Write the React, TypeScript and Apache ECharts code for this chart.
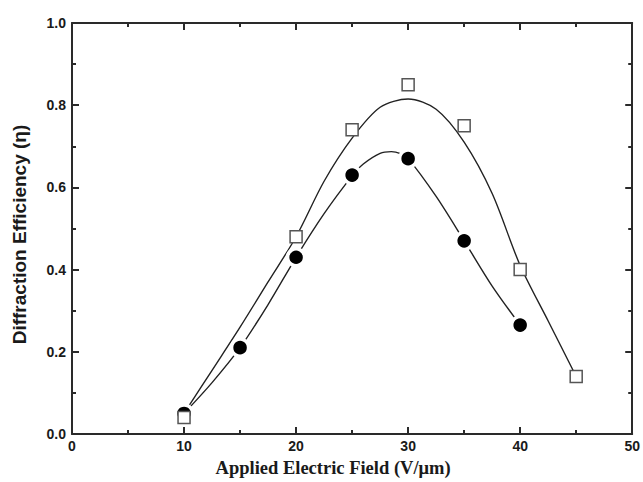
import React, { useEffect, useRef } from "react";
import * as echarts from "echarts";

// measured points
const squareX = [10, 20, 25, 30, 35, 40, 45];
const squareY = [0.04, 0.48, 0.74, 0.85, 0.75, 0.40, 0.14];
const circleX = [10, 15, 20, 25, 30, 35, 40];
const circleY = [0.05, 0.21, 0.43, 0.63, 0.67, 0.47, 0.265];

// fitted curves
const squareFitX = [10, 12.5, 15, 17.5, 20, 22.5, 25, 27.5, 30, 32.5, 35, 37.5, 40, 42.5, 45];
const squareFitY = [0.05, 0.155, 0.26, 0.37, 0.48, 0.615, 0.72, 0.795, 0.815, 0.79, 0.71, 0.585, 0.41, 0.275, 0.14];
const circleFitX = [10, 12.5, 15, 17.5, 20, 22.5, 25, 26, 27.5, 28.5, 29.25, 30, 32.5, 35, 37.5, 40];
const circleFitY = [0.05, 0.125, 0.21, 0.315, 0.43, 0.536, 0.628, 0.657, 0.683, 0.687, 0.683, 0.67, 0.578, 0.47, 0.36, 0.265];

const xTicks = [0, 10, 20, 30, 40, 50];
const yTicks = [0, 0.2, 0.4, 0.6, 0.8, 1.0];

const xTitle = "Applied Electric Field (V/\u03bcm)";
const yTitle = "Diffraction Efficiency (\u03b7)";

const pair = (xs: number[], ys: number[]) => xs.map((x, i) => [x, ys[i]]);

export default function App() {
  const ref = useRef<HTMLDivElement>(null);
  useEffect(() => {
    if (!ref.current) return;
    const chart = echarts.init(ref.current, null, { renderer: "svg" });
    const axisColor = "#2a2a2a";
    const labelStyle = {
      color: "#1a1a1a",
      fontFamily: "Liberation Sans, Arial, sans-serif",
      fontWeight: "bold" as const,
      fontSize: 14,
    };
    const commonAxis = {
      axisLine: { show: true, onZero: false, lineStyle: { color: axisColor, width: 2 } },
      axisTick: { show: true, inside: true, length: 7, lineStyle: { color: axisColor, width: 2 } },
      minorTick: { show: true, splitNumber: 2, length: 4, lineStyle: { color: axisColor, width: 2 } },
      splitLine: { show: false },
      minorSplitLine: { show: false },
    };
    chart.setOption({
      animation: false,
      backgroundColor: "#ffffff",
      grid: { left: 72, right: 10, top: 23, bottom: 47, containLabel: false },
      xAxis: [
        {
          type: "value",
          min: xTicks[0],
          max: xTicks[xTicks.length - 1],
          interval: 10,
          position: "bottom",
          ...commonAxis,
          axisLabel: { ...labelStyle, margin: 5 },
          name: xTitle,
          nameLocation: "middle",
          nameGap: 24,
          nameTextStyle: {
            color: "#1a1a1a",
            fontFamily: "Liberation Serif, Times New Roman, serif",
            fontWeight: "bold",
            fontSize: 18.5,
            padding: [0, 38, 0, 0],
          },
        },
        {
          type: "value",
          min: xTicks[0],
          max: xTicks[xTicks.length - 1],
          interval: 10,
          position: "top",
          ...commonAxis,
          axisLabel: { show: false },
        },
      ],
      yAxis: [
        {
          type: "value",
          min: yTicks[0],
          max: yTicks[yTicks.length - 1],
          interval: 0.2,
          position: "left",
          ...commonAxis,
          axisLabel: { ...labelStyle, margin: 6, formatter: (v: number) => v.toFixed(1) },
          name: yTitle,
          nameLocation: "middle",
          nameGap: 43,
          nameTextStyle: {
            color: "#1a1a1a",
            fontFamily: "Liberation Sans, Arial, sans-serif",
            fontWeight: "bold",
            fontSize: 19,
            padding: [0, 12, 0, 0],
          },
        },
        {
          type: "value",
          min: yTicks[0],
          max: yTicks[yTicks.length - 1],
          interval: 0.2,
          position: "right",
          ...commonAxis,
          axisLabel: { show: false },
        },
      ],
      series: [
        {
          type: "line",
          data: pair(circleFitX, circleFitY),
          smooth: 0.3,
          showSymbol: false,
          symbol: "none",
          lineStyle: { color: "#222", width: 1.4 },
          z: 2,
        },
        {
          type: "line",
          data: pair(squareFitX, squareFitY),
          smooth: 0.3,
          showSymbol: false,
          symbol: "none",
          lineStyle: { color: "#222", width: 1.4 },
          z: 2,
        },
        {
          type: "scatter",
          data: pair(circleX, circleY),
          symbol: "circle",
          symbolSize: 17,
          itemStyle: { color: "#000", borderColor: "#fff", borderWidth: 3.5, opacity: 1 },
          z: 4,
        },
        {
          type: "scatter",
          data: pair(squareX, squareY),
          symbol: "rect",
          symbolSize: 12,
          itemStyle: { color: "#fff", borderColor: "#555", borderWidth: 1.5, opacity: 1 },
          z: 5,
        },
      ],
    });
    return () => chart.dispose();
  }, []);
  return <div ref={ref} style={{ width: 643, height: 482, position: "absolute", left: 0, top: 0 }} />;
}
